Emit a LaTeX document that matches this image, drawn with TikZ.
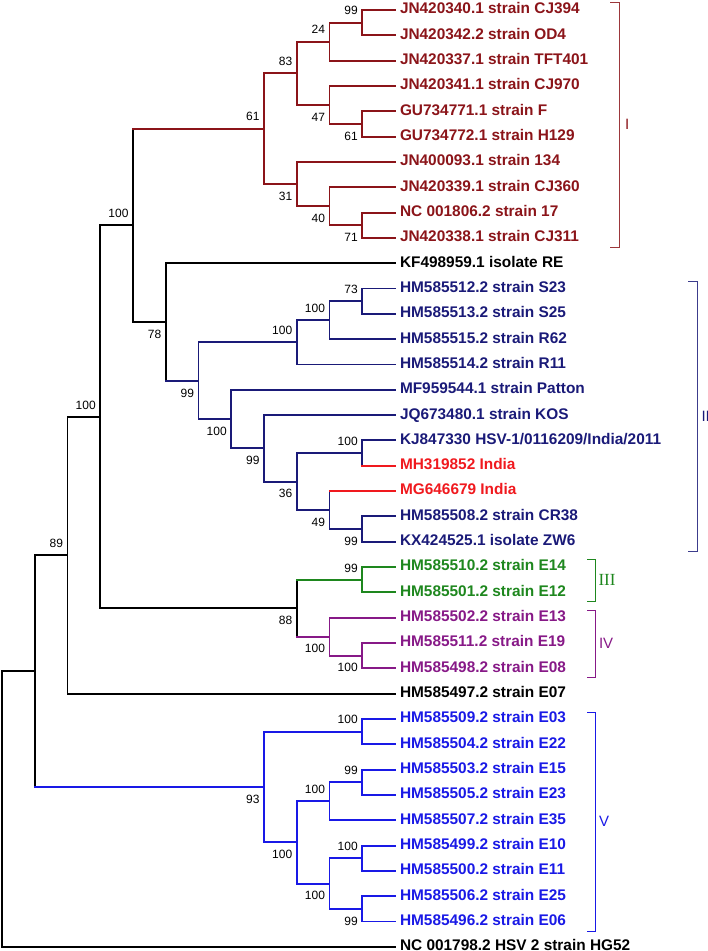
\documentclass[tikz,border=0pt]{standalone}
\usepackage{fontspec}
\setmainfont{Liberation Sans}
\newfontfamily\romanlab{Liberation Serif}
\definecolor{dred}{HTML}{8B1419}
\definecolor{navy}{HTML}{1A1A78}
\definecolor{grn}{HTML}{1E871E}
\definecolor{purp}{HTML}{871987}
\definecolor{blu}{HTML}{1919E6}
\definecolor{brt}{HTML}{F0191E}
\newcommand\bnode[5]{\coordinate (#1) at (#2,#3); \node[#5] (#1lab) at (#1) {#4};}
\newcommand\kids[6]{%
  \draw[tree,#2] (#1 |- #3) -- (#1 |- #5);
  \draw[tree,#4] (#1 |- #3) -- (#3);
  \draw[tree,#6] (#1 |- #5) -- (#5);}
\begin{document}
\begin{tikzpicture}[x=1pt,y=-1pt,
  tree/.style={line width=1.9pt, line cap=rect},
  leaf/.style={anchor=west, inner xsep=5pt, inner ysep=0pt, outer sep=0pt,
    font=\fontsize{15.4}{15.4}\selectfont\bfseries, text height=11pt, text depth=3.2pt},
  bs/.style={anchor=east, inner sep=0pt, outer sep=0pt,
    font=\fontsize{12}{12}\selectfont, text height=8.6pt, text depth=0pt, xshift=-4.5pt},
  bsu/.style={bs, yshift=12pt},
  bsd/.style={bs, yshift=-12pt},
  brk/.style={line width=1pt},
  clab/.style={anchor=west, inner sep=0pt, outer sep=0pt,
    font=\fontsize{15}{15}\selectfont, text height=10.7pt, text depth=0pt}]
\useasboundingbox (0,0) rectangle (708,951);
% leaves
\node[leaf,dred] (L1) at (395,10.00) {JN420340.1 strain CJ394};
\node[leaf,dred] (L2) at (395,35.32) {JN420342.2 strain OD4};
\node[leaf,dred] (L3) at (395,60.64) {JN420337.1 strain TFT401};
\node[leaf,dred] (L4) at (395,85.96) {JN420341.1 strain CJ970};
\node[leaf,dred] (L5) at (395,111.28) {GU734771.1 strain F};
\node[leaf,dred] (L6) at (395,136.60) {GU734772.1 strain H129};
\node[leaf,dred] (L7) at (395,161.92) {JN400093.1 strain 134};
\node[leaf,dred] (L8) at (395,187.24) {JN420339.1 strain CJ360};
\node[leaf,dred] (L9) at (395,212.56) {NC 001806.2 strain 17};
\node[leaf,dred] (L10) at (395,237.88) {JN420338.1 strain CJ311};
\node[leaf,black] (L11) at (395,263.20) {KF498959.1 isolate RE};
\node[leaf,navy] (L12) at (395,288.52) {HM585512.2 strain S23};
\node[leaf,navy] (L13) at (395,313.84) {HM585513.2 strain S25};
\node[leaf,navy] (L14) at (395,339.16) {HM585515.2 strain R62};
\node[leaf,navy] (L15) at (395,364.48) {HM585514.2 strain R11};
\node[leaf,navy] (L16) at (395,389.80) {MF959544.1 strain Patton};
\node[leaf,navy] (L17) at (395,415.12) {JQ673480.1 strain KOS};
\node[leaf,navy] (L18) at (395,440.44) {KJ847330 HSV-1/0116209/India/2011};
\node[leaf,brt] (L19) at (395,465.76) {MH319852 India};
\node[leaf,brt] (L20) at (395,491.08) {MG646679 India};
\node[leaf,navy] (L21) at (395,516.40) {HM585508.2 strain CR38};
\node[leaf,navy] (L22) at (395,541.72) {KX424525.1 isolate ZW6};
\node[leaf,grn] (L23) at (395,567.04) {HM585510.2 strain E14};
\node[leaf,grn] (L24) at (395,592.36) {HM585501.2 strain E12};
\node[leaf,purp] (L25) at (395,617.68) {HM585502.2 strain E13};
\node[leaf,purp] (L26) at (395,643.00) {HM585511.2 strain E19};
\node[leaf,purp] (L27) at (395,668.32) {HM585498.2 strain E08};
\node[leaf,black] (L28) at (395,693.64) {HM585497.2 strain E07};
\node[leaf,blu] (L29) at (395,718.96) {HM585509.2 strain E03};
\node[leaf,blu] (L30) at (395,744.28) {HM585504.2 strain E22};
\node[leaf,blu] (L31) at (395,769.60) {HM585503.2 strain E15};
\node[leaf,blu] (L32) at (395,794.92) {HM585505.2 strain E23};
\node[leaf,blu] (L33) at (395,820.24) {HM585507.2 strain E35};
\node[leaf,blu] (L34) at (395,845.56) {HM585499.2 strain E10};
\node[leaf,blu] (L35) at (395,870.88) {HM585500.2 strain E11};
\node[leaf,blu] (L36) at (395,896.20) {HM585506.2 strain E25};
\node[leaf,blu] (L37) at (395,921.52) {HM585496.2 strain E06};
\coordinate (T38) at (395,946.84);
\node[leaf,black,text depth=0pt] (L38) at (395,944.9) {NC 001798.2 HSV 2 strain HG52};
% internal nodes
\bnode{a1}{362.25}{22.66}{99}{bsu}
\bnode{a2}{329.5}{41.65}{24}{bsu}
\bnode{a3}{362.25}{123.94}{61}{bsd}
\bnode{a4}{329.5}{104.95}{47}{bsd}
\bnode{a5}{296.75}{73.30}{83}{bsu}
\bnode{a6}{362.25}{225.22}{71}{bsd}
\bnode{a7}{329.5}{206.23}{40}{bsd}
\bnode{a8}{296.75}{184.08}{31}{bsd}
\bnode{a9}{264}{128.69}{61}{bsu}
\bnode{b1}{362.25}{301.18}{73}{bsu}
\bnode{b2}{329.5}{320.17}{100}{bsu}
\bnode{b3}{296.75}{342.33}{100}{bsu}
\bnode{b4}{362.25}{453.10}{100}{bsu}
\bnode{b5}{362.25}{529.06}{99}{bsd}
\bnode{b6}{329.5}{510.07}{49}{bsd}
\bnode{b7}{296.75}{481.59}{36}{bsd}
\bnode{b8}{264}{448.36}{99}{bsd}
\bnode{b9}{231.25}{419.08}{100}{bsd}
\bnode{b10}{198.5}{380.70}{99}{bsd}
\bnode{c1}{165.75}{321.95}{78}{bsd}
\bnode{c2}{133}{225.32}{100}{bsu}
\bnode{d1}{362.25}{579.70}{99}{bsu}
\bnode{d2}{362.25}{655.66}{100}{bsd}
\bnode{d3}{329.5}{636.67}{100}{bsd}
\bnode{d4}{296.75}{608.19}{88}{bsd}
\bnode{c3}{100.25}{416.75}{100}{bsu}
\bnode{c4}{67.5}{555.20}{89}{bsu}
\bnode{e1}{362.25}{731.62}{100}{bsu}
\bnode{e2}{362.25}{782.26}{99}{bsu}
\bnode{e3}{329.5}{801.25}{100}{bsu}
\bnode{e4}{362.25}{858.22}{100}{bsu}
\bnode{e5}{362.25}{908.86}{99}{bsd}
\bnode{e6}{329.5}{883.54}{100}{bsd}
\bnode{e7}{296.75}{842.40}{100}{bsd}
\bnode{e8}{264}{787.01}{93}{bsd}
\coordinate (c5) at (34.75,671.11);
\coordinate (rt) at (2,808.97);
% branches: parent, parent colour, upper child, its colour, lower child, its colour
\kids{a1}{dred}{L1.west}{dred}{L2.west}{dred}
\kids{a2}{dred}{a1}{dred}{L3.west}{dred}
\kids{a3}{dred}{L5.west}{dred}{L6.west}{dred}
\kids{a4}{dred}{L4.west}{dred}{a3}{dred}
\kids{a5}{dred}{a2}{dred}{a4}{dred}
\kids{a6}{dred}{L9.west}{dred}{L10.west}{dred}
\kids{a7}{dred}{L8.west}{dred}{a6}{dred}
\kids{a8}{dred}{L7.west}{dred}{a7}{dred}
\kids{a9}{dred}{a5}{dred}{a8}{dred}
\kids{b1}{navy}{L12.west}{navy}{L13.west}{navy}
\kids{b2}{navy}{b1}{navy}{L14.west}{navy}
\kids{b3}{navy}{b2}{navy}{L15.west}{navy}
\kids{b4}{navy}{L18.west}{navy}{L19.west}{brt}
\kids{b5}{navy}{L21.west}{navy}{L22.west}{navy}
\kids{b6}{navy}{L20.west}{brt}{b5}{navy}
\kids{b7}{navy}{b4}{navy}{b6}{navy}
\kids{b8}{navy}{L17.west}{navy}{b7}{navy}
\kids{b9}{navy}{L16.west}{navy}{b8}{navy}
\kids{b10}{navy}{b3}{navy}{b9}{navy}
\kids{c1}{black}{L11.west}{black}{b10}{navy}
\kids{c2}{black}{a9}{dred}{c1}{black}
\kids{d1}{grn}{L23.west}{grn}{L24.west}{grn}
\kids{d2}{purp}{L26.west}{purp}{L27.west}{purp}
\kids{d3}{purp}{L25.west}{purp}{d2}{purp}
\kids{d4}{black}{d1}{grn}{d3}{purp}
\kids{c3}{black}{c2}{black}{d4}{black}
\kids{c4}{black}{c3}{black}{L28.west}{black}
\kids{e1}{blu}{L29.west}{blu}{L30.west}{blu}
\kids{e2}{blu}{L31.west}{blu}{L32.west}{blu}
\kids{e3}{blu}{e2}{blu}{L33.west}{blu}
\kids{e4}{blu}{L34.west}{blu}{L35.west}{blu}
\kids{e5}{blu}{L36.west}{blu}{L37.west}{blu}
\kids{e6}{blu}{e4}{blu}{e5}{blu}
\kids{e7}{blu}{e3}{blu}{e6}{blu}
\kids{e8}{blu}{e1}{blu}{e7}{blu}
\kids{c5}{black}{c4}{black}{e8}{blu}
\kids{rt}{black}{c5}{black}{T38}{black}
% clade brackets
\draw[brk,dred!85!white] (610,2.5) -- (619,2.5) -- (619,247) -- (610,247);
\node[clab,dred] (cI) at (625,124.5) {I};
\draw[brk,navy!85!white] (688,281) -- (697,281) -- (697,551) -- (688,551);
\node[clab,navy] (cII) at (701.5,416) {II};
\draw[brk,grn] (587,559) -- (595,559) -- (595,601) -- (587,601);
\node[clab,grn,font=\fontsize{17}{17}\romanlab,text height=11.3pt] (cIII) at (598.5,580) {III};
\draw[brk,purp] (587,610) -- (595,610) -- (595,677) -- (587,677);
\node[clab,purp] (cIV) at (599,643) {IV};
\draw[brk,blu] (587,712) -- (595,712) -- (595,931) -- (587,931);
\node[clab,blu] (cV) at (599,821) {V};
\end{tikzpicture}
\end{document}
